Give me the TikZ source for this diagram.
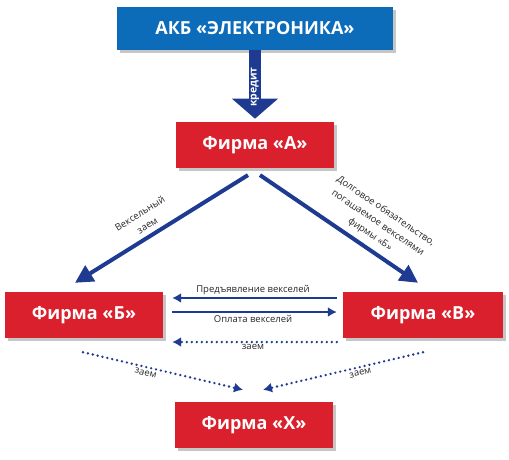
\documentclass[tikz,border=0pt]{standalone}
\usepackage{fontspec}
\setmainfont{Open Sans}
\usepackage{tikz}
\usetikzlibrary{arrows.meta,positioning,calc,shadows}
\definecolor{AkbBlue}{RGB}{12,108,186}
\definecolor{FirmRed}{RGB}{218,32,44}
\definecolor{ArrNavy}{RGB}{30,58,145}

\begin{document}
\begin{tikzpicture}[x=1pt, y=-1pt,
    box/.style={fill=FirmRed, text=white, inner sep=0pt, minimum width=158pt, minimum height=46pt,
      font=\fontsize{18}{20}\selectfont\bfseries,
      drop shadow={shadow xshift=2.5pt, shadow yshift=-3pt, fill=black!50, opacity=.45}},
    bank/.style={box, fill=AkbBlue, minimum width=276pt, minimum height=43pt},
    thin/.style={-{Latex[length=9pt,width=10pt]}, line width=2pt, ArrNavy},
    thick/.style={-{Triangle[length=18pt,width=18pt]}, line width=4pt, ArrNavy},
    dots/.style={-{Latex[length=9pt,width=10pt]}, line width=2.6pt, ArrNavy, line cap=round, dash pattern=on 0pt off 5pt},
    lab/.style={font=\fontsize{9.5}{14}\selectfont, text=black!85, align=center, inner sep=2pt}
  ]
    \useasboundingbox (0,0) rectangle (509,459);
    \node[bank] (akb) at (255,28) {АКБ «ЭЛЕКТРОНИКА»};
    \node[box, below=72pt of akb] (firmA) {Фирма «А»};
    \node[box] (firmB) at (84,315) {Фирма «Б»};
    \node[box, minimum width=160pt] (firmV) at (423,315) {Фирма «В»};
    \node[box] (firmX) at (254,425) {Фирма «Х»};
    % credit
    \draw[ArrNavy, line width=12pt, -{Triangle[length=20pt,width=45pt]}, shorten >=3pt] (akb) --
      node[pos=.52, rotate=90, text=white, inner sep=0pt, font=\fontsize{10.5}{11}\selectfont\bfseries] (kred) {кредит} (firmA);
    % loans from A
    \draw[thick] ($(firmA.south)+(-7,7)$) -- node[pos=.55, sloped, above=3pt, lab] (vz) {Вексельный\\заем} ($(firmB.north)+(-9,-9)$);
    \draw[thick] ($(firmA.south)+(5,7)$) -- node[pos=.65, sloped, above=4pt, lab] (dolg) {Долговое обязательство,\\погашаемое векселями\\фирмы «Б»} ($(firmV.north)+(-5,-9)$);
    % bills
    \draw[thin, shorten <=6pt, shorten >=9pt] ([yshift=17pt]firmV.west) -- node[above, lab] (pred) {Предъявление векселей} ([yshift=17pt]firmB.east);
    \draw[thin, shorten <=9pt, shorten >=6pt] ([yshift=3pt]firmB.east) -- node[below, lab] (opl) {Оплата векселей} ([yshift=3pt]firmV.west);
    \draw[dots, shorten <=6pt, shorten >=9pt] ([yshift=-27pt]firmV.west) -- node[below, lab, inner sep=1pt] (zvb) {заем} ([yshift=-27pt]firmB.east);
    % loans to X
    \draw[dots] ($(firmB.south)+(-1,14)$) -- node[pos=.4, sloped, below, lab] (zbx) {заем} ($(firmX.north)+(-11,-12)$);
    \draw[dots] ($(firmV.south)+(0,14)$) -- node[pos=.4, sloped, below, lab] (zvx) {заем} ($(firmX.north)+(9,-12)$);
  \end{tikzpicture}
\end{document}
